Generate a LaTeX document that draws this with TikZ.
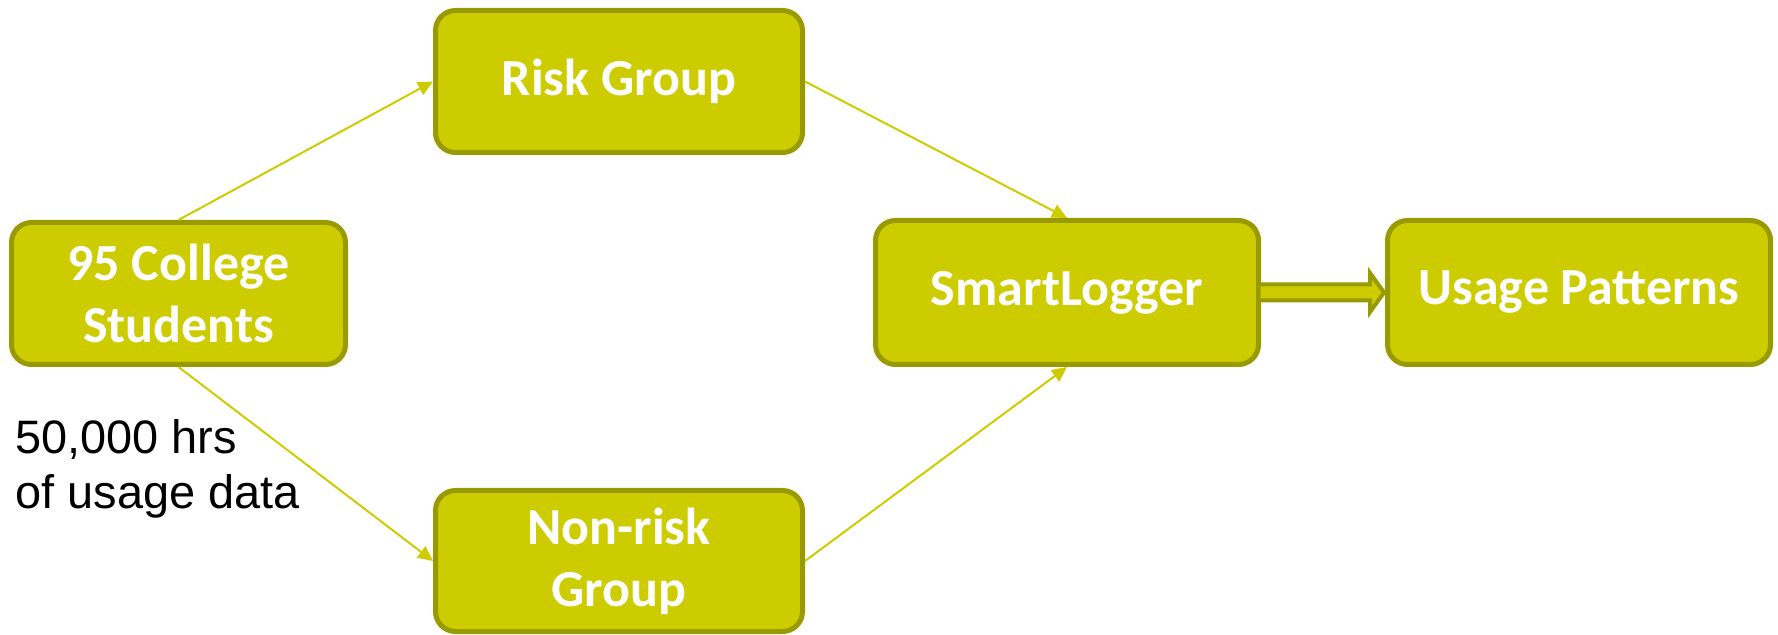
\documentclass[tikz,border=0pt]{standalone}
\usepackage{fontspec}
\setmainfont{Liberation Sans}
\newfontfamily\boxfont{Carlito}
\usetikzlibrary{calc,arrows.meta}
\definecolor{olivefill}{RGB}{204,204,0}
\definecolor{oliveline}{RGB}{153,153,0}

\begin{document}
\begin{tikzpicture}[
  stage/.style={draw=oliveline, fill=olivefill, line width=0.1cm, rounded corners=0.4cm,
    minimum height=2.84cm, inner sep=2pt, align=center, text=white,
    font=\boxfont\bfseries\fontsize{29.6}{35.3}\selectfont},
  link/.style={olivefill, line width=0.04cm, -{Triangle[length=0.3cm,width=0.28cm]}},
  bigarrow/.style={draw=oliveline, fill=olivefill, line width=0.08cm, line join=miter},
]

% area
\useasboundingbox (0,0) rectangle (35.56,12.7);

% caixas
\node[stage, minimum width=6.68cm] (students) at (3.57,6.83) {95 College\\Students};
\node[stage, minimum width=7.34cm] (risk) at (12.38,11.07) {Risk Group};
\node[stage, minimum width=7.34cm, minimum height=2.82cm] (nonrisk) at (12.38,1.48) {Non-risk\\Group};
\node[stage, minimum width=7.66cm, minimum height=2.88cm] (smart) at (21.34,6.85) {SmartLogger};
\node[stage, minimum width=7.66cm, minimum height=2.88cm] (usage) at (31.58,6.85) {Usage Patterns};

% texto
\node[anchor=north west, inner sep=0, align=left,
  font=\fontsize{26.7}{31.3}\selectfont] (hours) at (0.3,4.32) {50,000 hrs\\of usage data};

% setas
\draw[link] (students.north) -- (risk.west);
\draw[link] (students.south) -- (nonrisk.west);
\draw[link] (risk.east) -- (smart.north);
\draw[link] (nonrisk.east) -- (smart.south);

% seta larga
\draw[bigarrow] ($(smart.east)+(-0.05,0.16)$) -- ($(usage.west)+(-0.3,0.16)$)
  -- ($(usage.west)+(-0.3,0.39)$) -- ($(usage.west)+(-0.02,0)$)
  -- ($(usage.west)+(-0.3,-0.39)$) -- ($(usage.west)+(-0.3,-0.16)$)
  -- ($(smart.east)+(-0.05,-0.16)$) -- cycle;

\end{tikzpicture}
\end{document}
